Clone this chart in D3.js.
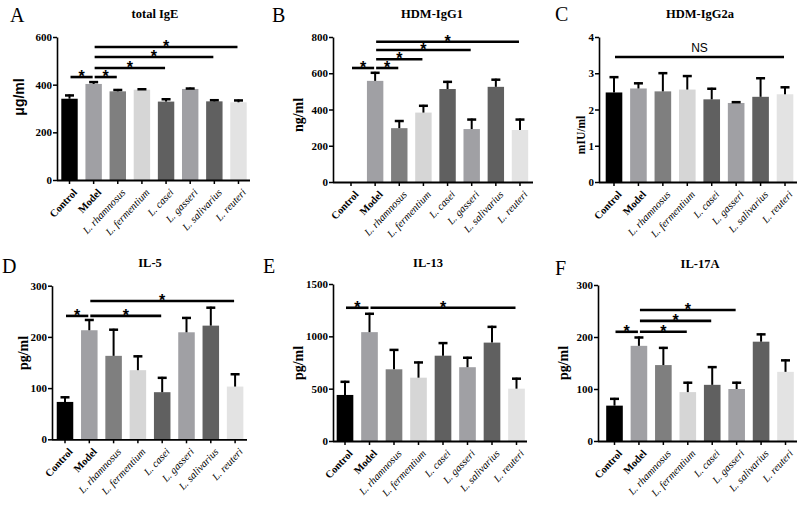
<!doctype html>
<html>
<head>
<meta charset="utf-8">
<script src="https://cdn.jsdelivr.net/npm/d3@7"></script>
<style>
  body { margin: 0; background: #fff; }
  svg { display: block; }
  text { font-family: "Liberation Serif", "Times New Roman", serif; }
</style>
</head>
<body>
<svg width="800" height="505"></svg>
<script>
// groups, same order in every panel
var categories = ["Control", "Model", "L. rhamnosus", "L. fermentium", "L. casei", "L. gasseri", "L. salivarius", "L. reuteri"];

// mean and upper error (SEM)
var igeMean  = [341, 403, 372, 379, 329, 382, 330, 326];
var igeErr   = [18, 12, 10, 6, 14, 6, 9, 12];
var igg1Mean = [0, 558, 297, 383, 513, 292, 525, 287];
var igg1Err  = [0, 50, 45, 43, 45, 58, 45, 63];
var igg2Mean = [2.47, 2.58, 2.5, 2.55, 2.28, 2.18, 2.35, 2.42];
var igg2Err  = [0.45, 0.17, 0.53, 0.4, 0.32, 0.05, 0.54, 0.22];
var il5Mean  = [73, 213, 163, 135, 92, 209, 222, 103];
var il5Err   = [11, 22, 53, 29, 30, 30, 37, 26];
var il13Mean = [440, 1040, 685, 605, 815, 705, 940, 500];
var il13Err  = [135, 185, 195, 155, 130, 100, 160, 105];
var il17Mean = [68, 183, 146, 94, 108, 100, 191, 133];
var il17Err  = [15, 18, 35, 20, 36, 14, 16, 24];

// y ticks
var igeTicks  = [0, 200, 400, 600];
var igg1Ticks = [0, 200, 400, 600, 800];
var igg2Ticks = [0, 1, 2, 3, 4];
var il5Ticks  = [0, 100, 200, 300];
var il13Ticks = [0, 500, 1000, 1500];
var il17Ticks = [0, 100, 200, 300];

// comparison brackets: [from group, to group, level in data units, label]
var igeSig  = [[0, 1, 432, "*"], [1, 2, 432, "*"], [1, 4, 470, "*"], [1, 6, 516, "*"], [1, 7, 558, "*"]];
var igg1Sig = [[0, 1, 629, "*"], [1, 2, 629, "*"], [1, 3, 677, "*"], [1, 5, 728, "*"], [1, 7, 774, "*"]];
var igg2Sig = [[0, 7, 3.45, "NS"]];
var il5Sig  = [[0, 1, 241, "*"], [1, 4, 241, "*"], [1, 7, 270, "*"]];
var il13Sig = [[0, 1, 1273, "*"], [1, 7, 1273, "*"]];
var il17Sig = [[0, 1, 210, "*"], [1, 3, 210, "*"], [1, 4, 231, "*"], [1, 5, 252, "*"]];

var barColors = ["#000000", "#a0a0a4", "#7f7f7f", "#d6d6d6", "#606060", "#a0a0a4", "#606060", "#e3e3e3"];

var panels = [
  {letter: "A", title: "total IgE", ylab: "μg/ml", ylabSans: true, ylabSize: 14, mean: igeMean, err: igeErr, ticks: igeTicks, sig: igeSig,
   x0: 57, top: 37, bottom: 180, first: 69.5, step: 24.14, xEnd: 250, lx: 10, ly: 22, tx: 155, ty: 18, yx: 19, yy: 97},
  {letter: "B", title: "HDM-IgG1", ylab: "ng/ml", ylabSize: 14, mean: igg1Mean, err: igg1Err, ticks: igg1Ticks, sig: igg1Sig,
   x0: 333, top: 37, bottom: 182, first: 351, step: 24.14, xEnd: 533, lx: 272, ly: 22, tx: 432, ty: 18, yx: 298, yy: 115},
  {letter: "C", title: "HDM-IgG2a", ylab: "mIU/ml", ylabSize: 11.5, mean: igg2Mean, err: igg2Err, ticks: igg2Ticks, sig: igg2Sig,
   x0: 599, top: 37, bottom: 182, first: 614, step: 24.43, xEnd: 797, lx: 555, ly: 21, tx: 700, ty: 18, yx: 581, yy: 135},
  {letter: "D", title: "IL-5", ylab: "pg/ml", ylabSize: 14, mean: il5Mean, err: il5Err, ticks: il5Ticks, sig: il5Sig,
   x0: 52, top: 285.7, bottom: 439.3, first: 65, step: 24.3, xEnd: 247, lx: 2, ly: 273, tx: 150, ty: 267, yx: 23, yy: 353},
  {letter: "E", title: "IL-13", ylab: "pg/ml", ylabSize: 14, mean: il13Mean, err: il13Err, ticks: il13Ticks, sig: il13Sig,
   x0: 333, top: 284, bottom: 441, first: 345, step: 24.5, xEnd: 527, lx: 263, ly: 273, tx: 428, ty: 267, yx: 298, yy: 363},
  {letter: "F", title: "IL-17A", ylab: "pg/ml", ylabSize: 14, mean: il17Mean, err: il17Err, ticks: il17Ticks, sig: il17Sig,
   x0: 598, top: 285, bottom: 441, first: 614.5, step: 24.43, xEnd: 797, lx: 555, ly: 275, tx: 700, ty: 268, yx: 563, yy: 363}
];

var svg = d3.select("svg");

panels.forEach(function(p) {
  var g = svg.append("g");

  var x = d3.scaleBand()
    .domain(categories)
    .range([p.first - p.step / 2, p.first - p.step / 2 + p.step * categories.length])
    .paddingInner(0.32)
    .paddingOuter(0.16);
  var y = d3.scaleLinear()
    .domain([p.ticks[0], p.ticks[p.ticks.length - 1]])
    .range([p.bottom, p.top]);

  var rows = categories.map(function(c, i) { return {cat: c, i: i, v: p.mean[i], e: p.err[i]}; });

  // bars
  g.selectAll(".bar").data(rows.filter(function(d) { return d.v > 0; }))
    .enter().append("rect")
    .attr("x", function(d) { return x(d.cat); })
    .attr("width", x.bandwidth())
    .attr("y", function(d) { return y(d.v); })
    .attr("height", function(d) { return y(0) - y(d.v); })
    .style("fill", function(d) { return barColors[d.i]; });

  // upper error bars
  var eb = g.selectAll(".err").data(rows.filter(function(d) { return d.e > 0; }))
    .enter().append("g")
    .attr("transform", function(d) { return "translate(" + (x(d.cat) + x.bandwidth() / 2) + ",0)"; });
  eb.append("line")
    .attr("y1", function(d) { return y(d.v); })
    .attr("y2", function(d) { return y(d.v + d.e); })
    .style("stroke", "#000").style("stroke-width", 2);
  eb.append("line")
    .attr("x1", -4.5).attr("x2", 4.5)
    .attr("y1", function(d) { return y(d.v + d.e) + 1; })
    .attr("y2", function(d) { return y(d.v + d.e) + 1; })
    .style("stroke", "#000").style("stroke-width", 2.5);

  // y axis
  var ya = g.append("g")
    .attr("transform", "translate(" + p.x0 + ",0)")
    .call(d3.axisLeft(y).tickValues(p.ticks).tickFormat(d3.format("d")).tickSize(4).tickSizeOuter(0));
  ya.select(".domain").style("stroke-width", 1.6);
  ya.selectAll(".tick line").style("stroke-width", 1.5);
  ya.selectAll(".tick text")
    .attr("x", -5)
    .style("font-family", "'Liberation Serif', serif")
    .style("font-weight", "bold")
    .style("font-size", "11px")
    .style("fill", "#000");

  // x axis
  var xa = g.append("g")
    .attr("transform", "translate(0," + p.bottom + ")")
    .call(d3.axisBottom(x).tickSize(4).tickSizeOuter(0));
  xa.select(".domain")
    .attr("d", "M" + p.x0 + ",0.5H" + p.xEnd)
    .style("stroke-width", 1.8);
  xa.selectAll(".tick line").style("stroke-width", 1.5);
  xa.selectAll(".tick text")
    .attr("y", 0).attr("dy", 0)
    .attr("transform", "translate(3,8) rotate(-47)")
    .attr("text-anchor", "end")
    .attr("dominant-baseline", "hanging")
    .style("font-family", "'Liberation Serif', serif")
    .style("font-size", "10.5px")
    .style("font-weight", function(d) { return d.indexOf("L.") === 0 ? "normal" : "bold"; })
    .style("font-style", function(d) { return d.indexOf("L.") === 0 ? "italic" : "normal"; })
    .style("fill", "#000");

  // comparison lines
  p.sig.forEach(function(s) {
    var xa0 = x(categories[s[0]]) + x.bandwidth() / 2;
    var xa1 = x(categories[s[1]]) + x.bandwidth() / 2;
    var ly = y(s[2]);
    g.append("line")
      .attr("x1", xa0 + 1).attr("x2", xa1 - 1)
      .attr("y1", ly).attr("y2", ly)
      .style("stroke", "#000").style("stroke-width", 2.6);
    if (s[3] === "NS") {
      g.append("text")
        .attr("x", (xa0 + xa1) / 2).attr("y", ly - 5)
        .attr("text-anchor", "middle")
        .style("font-family", "'Liberation Sans', Arial, sans-serif")
        .style("font-size", "12px")
        .text(s[3]);
    } else {
      g.append("text")
        .attr("x", (xa0 + xa1) / 2).attr("y", ly + 5)
        .attr("text-anchor", "middle")
        .style("font-family", "'Liberation Sans', Arial, sans-serif")
        .style("font-weight", "bold")
        .style("font-size", "16px")
        .text(s[3]);
    }
  });

  // panel letter, title, y label
  g.append("text")
    .attr("x", p.lx).attr("y", p.ly)
    .style("font-size", "20px")
    .text(p.letter);
  g.append("text")
    .attr("x", p.tx).attr("y", p.ty)
    .attr("text-anchor", "middle")
    .style("font-weight", "bold")
    .style("font-size", "12.5px")
    .text(p.title);
  g.append("text")
    .attr("transform", "translate(" + p.yx + "," + p.yy + ") rotate(-90)")
    .attr("text-anchor", "middle")
    .attr("dominant-baseline", "central")
    .style("font-family", p.ylabSans ? "'Liberation Sans', Arial, sans-serif" : "'Liberation Serif', serif")
    .style("font-weight", "bold")
    .style("font-size", p.ylabSize + "px")
    .text(p.ylab);
});
</script>
</body>
</html>
